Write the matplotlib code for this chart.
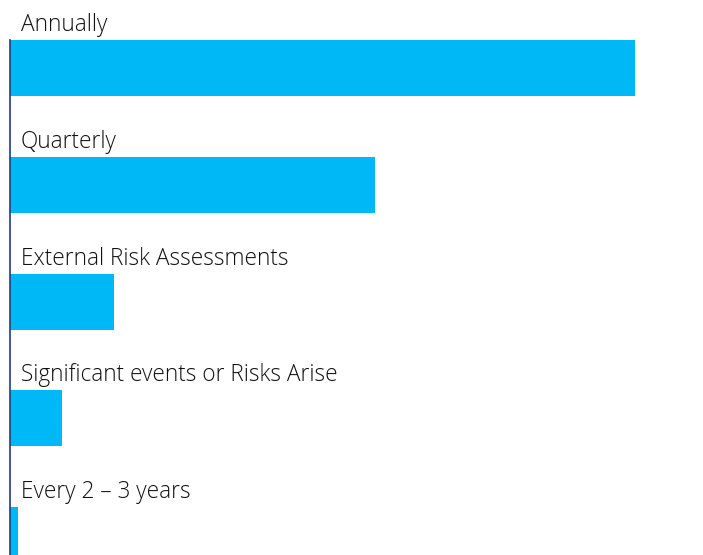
import numpy as np
import matplotlib.pyplot as plt

plt.rcParams['font.family'] = ['Open Sans', 'DejaVu Sans']

categories = ["Annually", "Quarterly", "External Risk Assessments",
              "Significant events or Risks Arise", "Every 2 \u2013 3 years"]
values = [60, 35, 10, 5, 0.8]

BAR_COLOR = "#00B8F5"
AXIS_COLOR = "#1F3C88"

fig = plt.figure(figsize=(7.03, 5.55), dpi=100)
# axes from x=10px to the right edge, from y=40px down to the bottom
ax = fig.add_axes([10 / 703, 0, 693 / 703, 515 / 555])

pos = np.arange(len(categories))
bar_h = 56 / 116.5
ax.barh(pos, values, height=bar_h, color=BAR_COLOR, zorder=2)

for p, label in zip(pos, categories):
    ax.annotate(label, xy=(0, p - bar_h / 2), xytext=(11, 9),
                textcoords="offset pixels", va="baseline", ha="left",
                fontsize=16.3, fontweight="light", color="#111111",
                annotation_clip=False)

ax.set_xlim(0, 66.5)
ax.set_ylim(4 + bar_h / 2 - 0.07, -bar_h / 2)

for side in ["top", "right", "bottom"]:
    ax.spines[side].set_visible(False)
ax.spines["left"].set_color(AXIS_COLOR)
ax.spines["left"].set_linewidth(1.2)
ax.spines["left"].set_zorder(3)
ax.set_xticks([])
ax.set_yticks([])

fig.savefig("out.png", dpi=100)
